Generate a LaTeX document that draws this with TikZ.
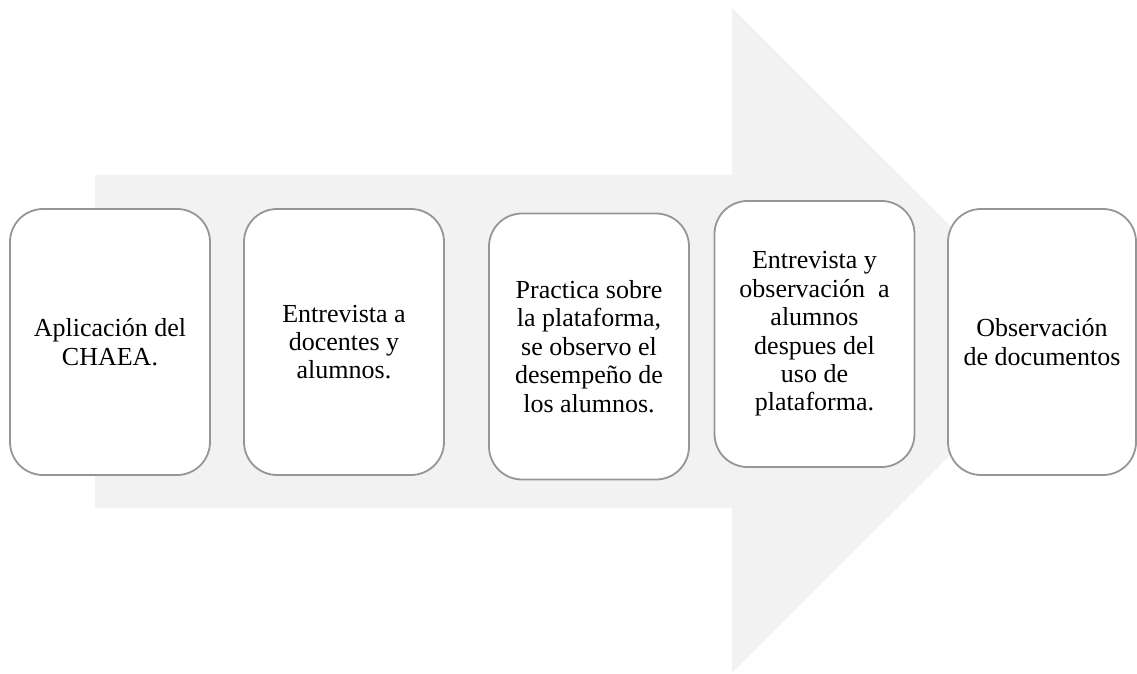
\documentclass[tikz,border=0pt]{standalone}
\usepackage{fontspec}
\setmainfont{Liberation Serif}
\usepackage{tikz}
\definecolor{flechagris}{RGB}{242,242,242}
\definecolor{bordegris}{RGB}{150,150,150}
\tikzset{
  etapa/.style={draw=bordegris, line width=1.8pt, fill=white, rounded corners=33pt,
    minimum width=200pt, minimum height=266pt, inner sep=0pt, align=center,
    font=\fontsize{26}{28.4}\selectfont}
}

\begin{document}
\begin{tikzpicture}[x=1pt,y=1pt]
\useasboundingbox (0,0) rectangle (1137,673);
\fill[flechagris] (95,165) -- (732,165) -- (732,0) -- (1065,332.5) -- (732,665) -- (732,498) -- (95,498) -- cycle;
\node[etapa] (chaea) at (110,331) {Aplicación del\\CHAEA.};
\node[etapa] (entrevista) at (344,331) {Entrevista a\\docentes y\\alumnos.};
\node[etapa] (practica) at (589,326.5) {Practica sobre\\la plataforma,\\se observo el\\desempeño de\\los alumnos.};
\node[etapa] (observacion) at (814.5,339) {Entrevista y\\observación~ a\\alumnos\\despues del\\uso de\\plataforma.};
\node[etapa, minimum width=188pt] (documentos) at (1042,331) {Observación\\de documentos};
\end{tikzpicture}
\end{document}
